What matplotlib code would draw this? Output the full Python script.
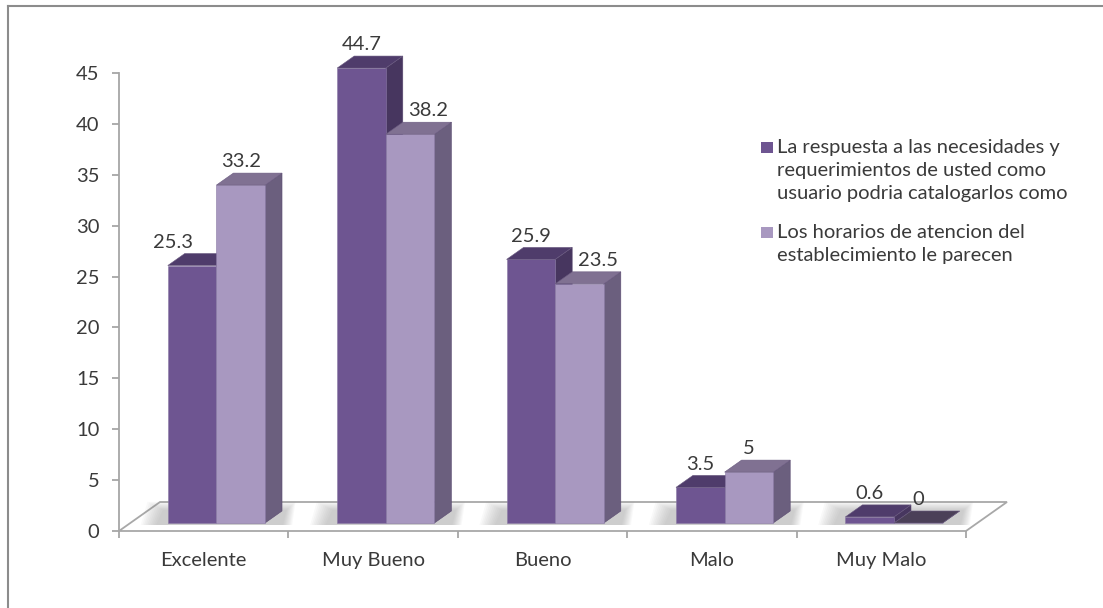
import numpy as np
import matplotlib
matplotlib.use("Agg")
import matplotlib.pyplot as plt
from matplotlib.patches import Polygon, Rectangle
from matplotlib.lines import Line2D

categories = ["Excelente", "Muy Bueno", "Bueno", "Malo", "Muy Malo"]
respuesta = [25.3, 44.7, 25.9, 3.5, 0.6]
horarios = [33.2, 38.2, 23.5, 5, 0]
value_labels_resp = ["25.3", "44.7", "25.9", "3.5", "0.6"]
value_labels_hor = ["33.2", "38.2", "23.5", "5", "0"]
legend_labels = ["La respuesta a las necesidades y\nrequerimientos de usted como\nusuario podria catalogarlos como",
                 "Los horarios de atencion del\nestablecimiento le parecen"]
yticks = [0, 5, 10, 15, 20, 25, 30, 35, 40, 45]

plt.rcParams['font.family'] = ['Lato', 'DejaVu Sans']
txt_col = '#3a3a3a'
grid_col = '#a6a6a6'
fs = 14.5

# face colours (front, top, side)
dark = ('#6e5591', '#4f3c6b', '#47365f')
light = ('#a898c0', '#807192', '#6b5f7e')
zero_top = '#4b4058'

W, H = 1103, 608
fig = plt.figure(figsize=(W / 100, H / 100), dpi=100)
ax = fig.add_axes([119 / W, (H - 531) / H, 847 / W, 458 / H])
ax.set_xlim(0, 5)
ax.set_ylim(0, 45)

# oblique depth in data units
px_x = 5 / 847.0
px_y = 45 / 458.0
floor_dx, floor_dy = 41 * px_x, 29 * px_y
shift_dx, shift_dy = 11 * px_x, 8 * px_y
bar_dx, bar_dy = 17 * px_x, 12 * px_y
bw = 0.287
n = len(categories)

# floor
floor = Polygon([(0, 0), (n, 0), (n + floor_dx, floor_dy), (floor_dx, floor_dy)],
                closed=True, facecolor='white', edgecolor='#a8a8a8', lw=1.3,
                clip_on=False, zorder=1)
ax.add_patch(floor)


def draw_bar(x0, h, cols, z, top_col=None):
    x = x0 + shift_dx
    y = shift_dy
    front = [(x, y), (x + bw, y), (x + bw, y + h), (x, y + h)]
    top = [(x, y + h), (x + bw, y + h), (x + bw + bar_dx, y + h + bar_dy), (x + bar_dx, y + h + bar_dy)]
    side = [(x + bw, y), (x + bw + bar_dx, y + bar_dy), (x + bw + bar_dx, y + h + bar_dy), (x + bw, y + h)]
    ax.add_patch(Polygon(side, closed=True, facecolor=cols[2], edgecolor='#5a4a70', lw=0.4, clip_on=False, zorder=z))
    ax.add_patch(Polygon(front, closed=True, facecolor=cols[0], edgecolor='#8a7aa5', lw=0.4, clip_on=False, zorder=z))
    ax.add_patch(Polygon(top, closed=True, facecolor=top_col or cols[1], edgecolor='#6a5a80', lw=0.4, clip_on=False, zorder=z))


for i in range(n):
    x_dark = i + 0.5 - bw + 0.01
    x_light = x_dark + bw
    # soft floor shadow, many faint nested layers
    x_lo = x_dark + shift_dx
    x_hi = x_light + bw + shift_dx + bar_dx
    nl = 10
    for k in range(nl):
        t = (nl - k) / nl
        g = t * 0.10
        gy = t * 0.9
        shadow = Polygon([(x_lo - 0.06 - g, shift_dy - 0.2), (x_hi + 0.6 * g, shift_dy - 0.2),
                          (x_hi + 0.02 + 0.6 * g, shift_dy + bar_dy + gy),
                          (x_lo - 0.02 - g, shift_dy + bar_dy + gy)],
                         closed=True, facecolor='#8c8c8c', edgecolor='none', alpha=0.05,
                         clip_on=False, zorder=2)
        ax.add_patch(shadow)
    draw_bar(x_dark, respuesta[i], dark, 3 + i)
    draw_bar(x_light, horarios[i], light, 3.5 + i,
             top_col=zero_top if horarios[i] == 0 else None)
    # nudge labels apart where the lower bar sits next to a taller one
    nud_d, nud_l = 0, 0
    if respuesta[i] < horarios[i] - 3:
        nud_d = -14
    elif horarios[i] < respuesta[i] - 2:
        nud_l = 13
    for xb, v, lab, nd in [(x_dark, respuesta[i], value_labels_resp[i], nud_d),
                           (x_light, horarios[i], value_labels_hor[i], nud_l)]:
        ax.annotate(lab, (xb + shift_dx + bw / 2, v + shift_dy + bar_dy),
                    xytext=(nd, 2), textcoords='offset points', ha='center', va='bottom',
                    fontsize=fs, color=txt_col, annotation_clip=False, zorder=10)

# axes styling
for s in ['top', 'right', 'bottom']:
    ax.spines[s].set_visible(False)
ax.spines['left'].set_color(grid_col)
ax.spines['left'].set_linewidth(1.3)
ax.set_yticks(yticks)
ax.tick_params(axis='y', length=5, width=1.3, color=grid_col, pad=9,
               labelsize=fs, labelcolor=txt_col)
ax.set_xticks(np.arange(n + 1))
ax.set_xticklabels([])
ax.tick_params(axis='x', which='major', length=5, width=1.3, color=grid_col, direction='out')
ax.set_xticks(np.arange(n) + 0.5, minor=True)
ax.set_xticklabels(categories, minor=True)
ax.tick_params(axis='x', which='minor', length=0, pad=15, labelsize=fs, labelcolor=txt_col)
ax.patch.set_visible(False)

# legend drawn by hand
leg_cols = [dark[0], light[0]]
leg_y = [147, 232]
for lab, c, yy in zip(legend_labels, leg_cols, leg_y):
    fig.patches.append(Rectangle((761 / W, 1 - (yy + 6) / H), 12 / W, 11 / H,
                                 transform=fig.transFigure, facecolor=c, edgecolor='none'))
    fig.text(777 / W, 1 - (yy - 8) / H, lab, ha='left', va='top', fontsize=fs,
             color=txt_col, linespacing=1.42)

# chart border (top and left visible)
fig.add_artist(Line2D([8 / W, 1], [1 - 6 / H, 1 - 6 / H], transform=fig.transFigure,
                      color='#8c8c8c', lw=1.5))
fig.add_artist(Line2D([8 / W, 8 / W], [0, 1 - 6 / H], transform=fig.transFigure,
                      color='#8c8c8c', lw=1.5))

fig.savefig('out.png', dpi=100)
